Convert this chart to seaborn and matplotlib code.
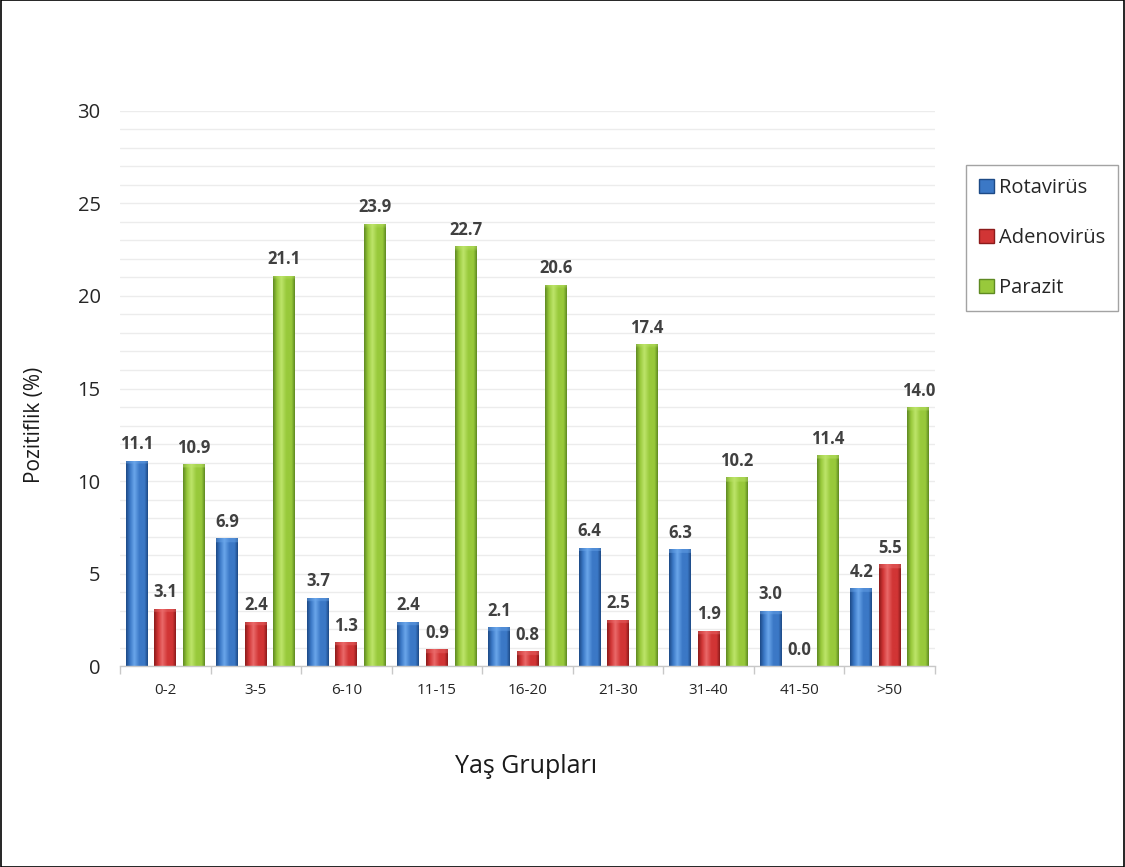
import numpy as np
import pandas as pd
import matplotlib
matplotlib.use("Agg")
import matplotlib.pyplot as plt
from matplotlib.patches import Patch, Rectangle
from matplotlib.ticker import MultipleLocator, FixedLocator
import seaborn as sns

# Age groups and positivity rates (%) by pathogen
age_groups = ["0-2", "3-5", "6-10", "11-15", "16-20", "21-30", "31-40", "41-50", ">50"]
rotavirus = [11.1, 6.9, 3.7, 2.4, 2.1, 6.4, 6.3, 3.0, 4.2]
adenovirus = [3.1, 2.4, 1.3, 0.9, 0.8, 2.5, 1.9, 0.0, 5.5]
parazit = [10.9, 21.1, 23.9, 22.7, 20.6, 17.4, 10.2, 11.4, 14.0]
series_names = ["Rotavirüs", "Adenovirüs", "Parazit"]

df = pd.DataFrame({
    "Yaş": age_groups * 3,
    "Tür": [n for n in series_names for _ in age_groups],
    "Değer": rotavirus + adenovirus + parazit,
})

base = {"Rotavirüs": "#3b78c6", "Adenovirüs": "#d13535", "Parazit": "#98c93b"}
dark = {"Rotavirüs": "#1d4a86", "Adenovirüs": "#8c1b1b", "Parazit": "#5f8a22"}
light = {"Rotavirüs": "#6aa6ea", "Adenovirüs": "#ea6a6a", "Parazit": "#bde46a"}

sns.set_theme(style="white")
plt.rcParams["font.family"] = ["Open Sans", "DejaVu Sans"]

fig = plt.figure(figsize=(11.25, 8.67), dpi=100)
ax = fig.add_axes([0.1067, 0.2318, 0.7244, 0.6402])

sns.barplot(data=df, x="Yaş", y="Değer", hue="Tür", order=age_groups,
            hue_order=series_names, palette=base, width=0.945, gap=0.23,
            legend=False, ax=ax, saturation=1, edgecolor="none", linewidth=0)

ax.set_ylim(0, 30)
ax.set_xlim(-0.5, len(age_groups) - 0.5)


def shade_profile(c_dark, c_base, c_light, n=64):
    d = np.array(matplotlib.colors.to_rgb(c_dark))
    b = np.array(matplotlib.colors.to_rgb(c_base))
    l = np.array(matplotlib.colors.to_rgb(c_light))
    t = np.linspace(0, 1, n)
    stops = [(0.0, d), (0.18, b), (0.38, l), (0.62, b), (0.85, b), (1.0, d)]
    out = np.zeros((n, 3))
    for i, tt in enumerate(t):
        for (t0, c0), (t1, c1) in zip(stops[:-1], stops[1:]):
            if t0 <= tt <= t1:
                f = (tt - t0) / (t1 - t0)
                out[i] = c0 + (c1 - c0) * f
                break
    return out, l


px_per_unit = ax.get_window_extent().height / 30.0
for name, cont in zip(series_names, ax.containers):
    prof, lcol = shade_profile(dark[name], base[name], light[name])
    for bar in cont:
        h = bar.get_height()
        x0, w = bar.get_x(), bar.get_width()
        ax.text(x0 + w / 2, h + 0.4, f"{h:.1f}", ha="center", va="bottom",
                fontsize=12, fontweight="bold", color="#404040", zorder=5)
        if h <= 0:
            continue
        rows = 120
        img = np.repeat(prof[None, :, :], rows, axis=0)
        bevel = min(0.5, 4.0 / (h * px_per_unit))
        nb = max(1, int(round(bevel * rows)))
        img[:nb] = img[:nb] * 0.55 + lcol * 0.45
        im = ax.imshow(img, extent=[x0, x0 + w, 0, h], aspect="auto",
                       origin="upper", zorder=bar.get_zorder() + 0.1,
                       interpolation="bilinear")
        im.set_clip_path(bar)

ax.set_ylim(0, 30)
ax.set_xlim(-0.5, len(age_groups) - 0.5)

# Grid every unit, no frame except the category axis
ax.yaxis.set_major_locator(MultipleLocator(5))
ax.yaxis.set_minor_locator(MultipleLocator(1))
ax.grid(axis="y", which="both", color="#ececec", linewidth=1.0)
ax.set_axisbelow(True)
for s in ["top", "right", "left"]:
    ax.spines[s].set_visible(False)
ax.spines["bottom"].set_color("#c8c8c8")
ax.spines["bottom"].set_linewidth(1.0)

ax.xaxis.set_minor_locator(FixedLocator(np.arange(-0.5, len(age_groups), 1.0)))
ax.tick_params(axis="x", which="major", length=0, labelsize=11, pad=12,
               labelcolor="#262626")
ax.tick_params(axis="x", which="minor", length=6, color="#c8c8c8", width=1,
               direction="out", bottom=True)
ax.tick_params(axis="y", which="both", length=0, labelsize=14.5, pad=14,
               labelcolor="#262626")

ax.set_xlabel("")
ax.set_ylabel("")
fig.text(0.031, 0.51, "Pozitiflik (%)", ha="center", va="center",
         rotation=90, fontsize=15, color="#1a1a1a")
fig.text(0.468, 0.116, "Yaş Grupları", ha="center", va="center",
         fontsize=18, color="#1a1a1a")

handles = [Patch(facecolor=base[n], edgecolor=dark[n], linewidth=1.0, label=n)
           for n in series_names]
leg = fig.legend(handles=handles, loc="upper left",
                 bbox_to_anchor=(0.859, 0.81), frameon=True, fancybox=False,
                 fontsize=14.5, handlelength=0.7, handleheight=0.7,
                 handletextpad=0.25, labelspacing=1.5, borderpad=0.65,
                 borderaxespad=0.0)
leg.get_frame().set_edgecolor("#8c8c8c")
leg.get_frame().set_linewidth(1.0)

# Outer frame of the figure
fig.patches.append(Rectangle((0.0005, 0.0005), 0.999, 0.999, transform=fig.transFigure,
                             fill=False, edgecolor="black", linewidth=1.2))

fig.savefig("out.png", dpi=100)
